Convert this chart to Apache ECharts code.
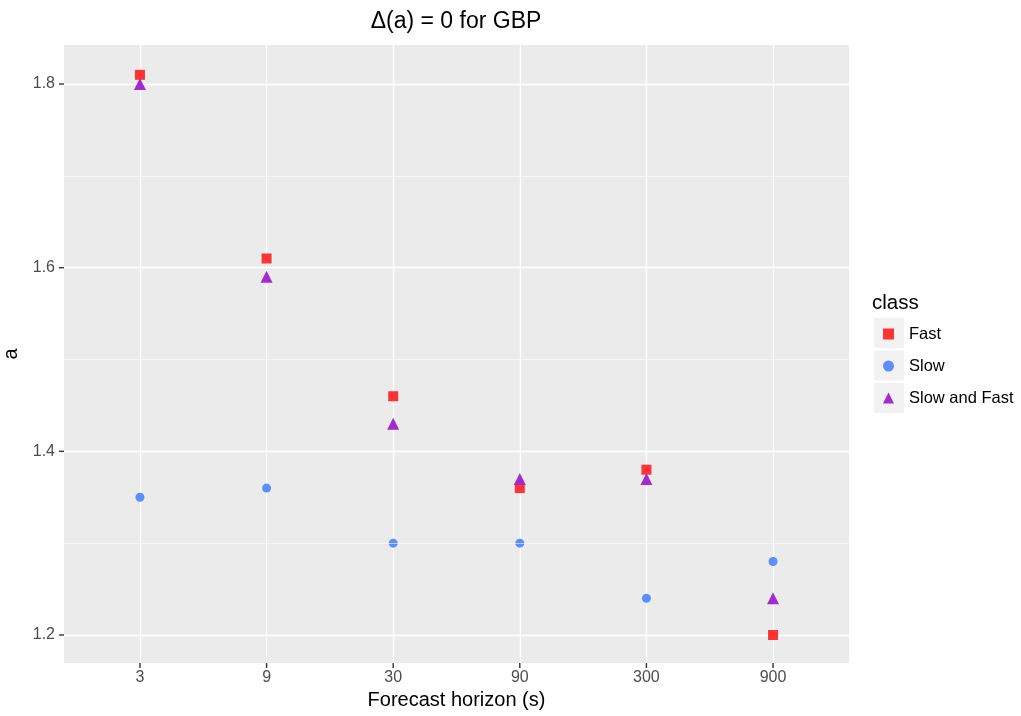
<!DOCTYPE html>
<html>
<head>
<meta charset="utf-8">
<script src="https://cdn.jsdelivr.net/npm/echarts@6/dist/echarts.min.js"></script>
<style>html,body{margin:0;padding:0;background:#fff;}#c{width:1021px;height:716px;}</style>
</head>
<body>
<div id="c"></div>
<script>
const categories = ['3', '9', '30', '90', '300', '900'];
const fastValues = [1.81, 1.61, 1.46, 1.36, 1.38, 1.20];
const slowValues = [1.35, 1.36, 1.30, 1.30, 1.24, 1.28];
const slowFastValues = [1.80, 1.59, 1.43, 1.37, 1.37, 1.24];
const yMajorTicks = [1.2, 1.4, 1.6, 1.8];
const yMinorTicks = [1.3, 1.5, 1.7];
const seriesNames = ['Fast', 'Slow', 'Slow and Fast'];

const X_MIN = -0.6, X_MAX = 5.6, Y_MIN = 1.1695, Y_MAX = 1.8425;
const FONT = '"Liberation Sans", Arial, Helvetica, sans-serif';
const chart = echarts.init(document.getElementById('c'), null, {renderer: 'canvas'});
const toPts = vals => vals.map((v, i) => [i, v]);
const xIdx = categories.map((c, i) => i);

function tickSeries(data, horizontal) {
  return {
    type: 'custom', silent: true, clip: false, z: 10,
    data: data,
    encode: {x: 0, y: 1},
    renderItem: function (params, api) {
      const p = api.coord([api.value(0), api.value(1)]);
      const shape = horizontal
        ? {x1: p[0] - 5, y1: p[1], x2: p[0], y2: p[1]}
        : {x1: p[0], y1: p[1], x2: p[0], y2: p[1] + 5};
      return {type: 'line', shape: shape, style: {stroke: '#333333', lineWidth: 1.4}};
    }
  };
}

const option = {
  backgroundColor: '#ffffff',
  animation: false,
  grid: {left: 64, right: 172, top: 45, bottom: 53, show: true, backgroundColor: '#EBEBEB',
    borderWidth: 0, containLabel: false, outerBoundsMode: 'none'},
  xAxis: {
    type: 'value', min: X_MIN, max: X_MAX, position: 'bottom',
    name: 'Forecast horizon (s)', nameLocation: 'middle', nameGap: 27,
    nameTextStyle: {fontFamily: FONT, fontSize: 20, color: '#000'},
    axisLine: {show: false, onZero: false},
    axisTick: {show: false, customValues: xIdx},
    axisLabel: {customValues: xIdx, fontFamily: FONT, fontSize: 16, color: '#4D4D4D', margin: 7,
      formatter: v => categories[Math.round(v)]},
    splitLine: {show: true, lineStyle: {color: '#fff', width: 1.3}}
  },
  yAxis: {
    type: 'value', min: Y_MIN, max: Y_MAX, position: 'left',
    name: 'a', nameLocation: 'middle', nameGap: 37, nameRotate: 90,
    nameTextStyle: {fontFamily: FONT, fontSize: 20, color: '#000'},
    axisLine: {show: false, onZero: false},
    axisTick: {show: false, customValues: yMajorTicks},
    axisLabel: {customValues: yMajorTicks, fontFamily: FONT, fontSize: 16, color: '#4D4D4D', margin: 9,
      formatter: v => v.toFixed(1)},
    splitLine: {show: true, lineStyle: {color: '#fff', width: 1.3}}
  },
  legend: {
    orient: 'vertical', left: 883, top: 324, padding: 0,
    itemWidth: 11, itemHeight: 11, itemGap: 12,
    textStyle: {fontFamily: FONT, fontSize: 16.5, color: '#000', lineHeight: 20, padding: [0, 0, 0, 10]},
    data: [
      {name: 'Fast', icon: 'rect'},
      {name: 'Slow', icon: 'circle'},
      {name: 'Slow and Fast', icon: 'triangle'}
    ]
  },
  graphic: [
    {type: 'text', x: 456, y: 22, style: {text: 'Δ(a) = 0 for GBP', font: '23px ' + FONT, fill: '#000',
      textAlign: 'center', textVerticalAlign: 'middle'}},
    {type: 'text', x: 872, y: 303, style: {text: 'class', font: '20.5px ' + FONT, fill: '#000',
      textAlign: 'left', textVerticalAlign: 'middle'}},
    {type: 'rect', shape: {x: 874, y: 318, width: 30, height: 30}, style: {fill: '#F2F2F2'}, z: -1},
    {type: 'rect', shape: {x: 874, y: 350.5, width: 30, height: 30}, style: {fill: '#F2F2F2'}, z: -1},
    {type: 'rect', shape: {x: 874, y: 383, width: 30, height: 30}, style: {fill: '#F2F2F2'}, z: -1}
  ],
  series: [
    {
      type: 'line', data: [], z: 1, silent: true, showSymbol: false,
      markLine: {
        silent: true, symbol: 'none', animation: false,
        label: {show: false},
        lineStyle: {color: '#fff', width: 0.6, type: 'solid'},
        data: yMinorTicks.map(v => ({yAxis: v}))
      }
    },
    tickSeries(yMajorTicks.map(v => [X_MIN, v]), true),
    tickSeries(xIdx.map(i => [i, Y_MIN]), false),
    {name: seriesNames[0], type: 'scatter', symbol: 'rect', symbolSize: 10, data: toPts(fastValues),
      itemStyle: {color: '#FF3333', opacity: 1}, z: 3},
    {name: seriesNames[1], type: 'scatter', symbol: 'circle', symbolSize: 9, data: toPts(slowValues),
      itemStyle: {color: '#5C8EFF', opacity: 1}, z: 3},
    {name: seriesNames[2], type: 'scatter', symbol: 'triangle', symbolSize: 12, data: toPts(slowFastValues),
      itemStyle: {color: '#A22ACF', opacity: 1}, z: 3}
  ]
};
chart.setOption(option);
</script>
</body>
</html>
